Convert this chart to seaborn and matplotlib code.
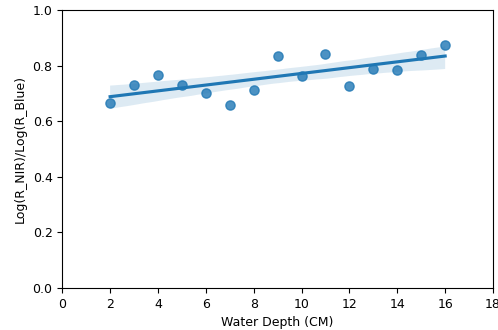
import numpy as np
import pandas as pd
import seaborn as sns
import matplotlib.pyplot as plt

depth = [2, 3, 4, 5, 6, 7, 8, 9, 10, 11, 12, 13, 14, 15, 16]
ratio = [0.664, 0.730, 0.767, 0.730, 0.703, 0.659, 0.712, 0.836,
         0.764, 0.842, 0.725, 0.789, 0.785, 0.837, 0.874]

df = pd.DataFrame({"Water Depth (CM)": depth, "Log(R_NIR)/Log(R_Blue)": ratio})

fig = plt.figure(figsize=(4.98, 3.30), dpi=100)
ax = fig.add_axes([0.125, 0.127, 0.865, 0.843])
sns.regplot(data=df, x="Water Depth (CM)", y="Log(R_NIR)/Log(R_Blue)", ax=ax,
            scatter_kws={"s": 44})
ax.set_xlim(0, 18)
ax.set_ylim(0, 1.0)
ax.set_xticks(np.arange(0, 19, 2))
ax.tick_params(labelsize=9)
ax.set_xlabel("Water Depth (CM)", fontsize=9)
ax.set_ylabel("Log(R_NIR)/Log(R_Blue)", fontsize=9)
fig.savefig("out.png", dpi=100)
